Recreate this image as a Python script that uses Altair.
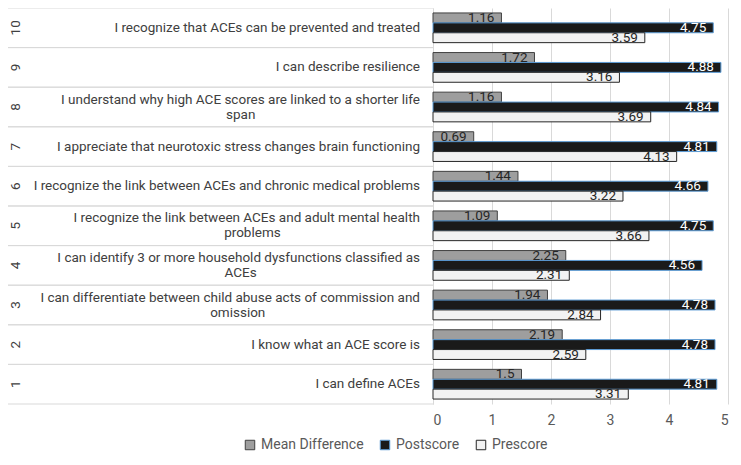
import altair as alt
import pandas as pd

items = [10, 9, 8, 7, 6, 5, 4, 3, 2, 1]
line1 = [
    "I recognize that ACEs can be prevented and treated",
    "I can describe resilience",
    "I understand why high ACE scores are linked to a shorter life",
    "I appreciate that neurotoxic stress changes brain functioning",
    "I recognize the link between ACEs and chronic medical problems",
    "I recognize the link between ACEs and adult mental health",
    "I can identify 3 or more household dysfunctions classified as",
    "I can differentiate between child abuse acts of commission and",
    "I know what an ACE score is",
    "I can define ACEs",
]
line2 = ["", "", "span", "", "", "problems", "ACEs", "omission", "", ""]
mean_diff = [1.16, 1.72, 1.16, 0.69, 1.44, 1.09, 2.25, 1.94, 2.19, 1.5]
postscore = [4.75, 4.88, 4.84, 4.81, 4.66, 4.75, 4.56, 4.78, 4.78, 4.81]
prescore = [3.59, 3.16, 3.69, 4.13, 3.22, 3.66, 2.31, 2.84, 2.59, 3.31]
series = ["Mean Difference", "Postscore", "Prescore"]
fills = ["#9e9e9e", "#1a1a1a", "#f2f2f2"]
strokes = ["#404040", "#5b9bd5", "#262626"]

FONT = "Roboto"
CHAR_W = 5.88  # approx. glyph width used to centre second label lines

labels = pd.DataFrame({"item": items, "line1": line1, "line2": line2})
rows = []
for i, it in enumerate(items):
    for s, vals in zip(series, [mean_diff, postscore, prescore]):
        rows.append({"item": it, "series": s, "value": vals[i]})
bars_df = pd.DataFrame(rows)

y_enc = alt.Y("item:O", sort="descending",
              scale=alt.Scale(paddingInner=0, paddingOuter=0),
              axis=alt.Axis(labels=False, ticks=False, title=None, domain=True,
                            domainColor="#d9d9d9", grid=False))
yoff = alt.YOffset("series:N", sort=series,
                   scale=alt.Scale(domain=series, paddingInner=0, paddingOuter=0.5))

leg = dict(title=None, orient="none", legendX=-190, legendY=430,
           direction="horizontal", symbolType="square", symbolSize=90,
           labelFontSize=14, labelFont=FONT, labelColor="#595959",
           columnPadding=14, symbolStrokeWidth=1)

base = alt.Chart(bars_df)

bars = base.mark_bar(strokeWidth=1, cornerRadius=0).encode(
    x=alt.X("value:Q", scale=alt.Scale(domain=[0, 5], nice=False),
            axis=alt.Axis(values=[0, 1, 2, 3, 4, 5], format="d", title=None, ticks=False,
                          domain=False, grid=True, gridColor="#d9d9d9",
                          labelFontSize=14, labelColor="#595959", labelFont=FONT,
                          labelPadding=9)),
    y=y_enc,
    yOffset=yoff,
    fill=alt.Fill("series:N", sort=series,
                  scale=alt.Scale(domain=series, range=fills),
                  legend=alt.Legend(**leg)),
    stroke=alt.Stroke("series:N", sort=series,
                      scale=alt.Scale(domain=series, range=strokes),
                      legend=alt.Legend(**leg)),
)

vals = base.mark_text(align="right", baseline="middle", dx=-7, fontSize=13.5, font=FONT).encode(
    x=alt.X("value:Q"),
    y=y_enc,
    yOffset=yoff,
    text=alt.Text("value:Q", format=".3~f"),
    color=alt.condition(alt.datum.series == "Postscore", alt.value("white"), alt.value("#262626")),
)

lab = alt.Chart(labels)
txt_kw = dict(baseline="middle", fontSize=13.5, font=FONT, color="#404040")
single = lab.transform_filter(alt.datum.line2 == "").mark_text(align="right", **txt_kw).encode(
    x=alt.value(-13), y=y_enc, text="line1:N")
multi1 = lab.transform_filter(alt.datum.line2 != "").mark_text(align="right", dy=-7.5, **txt_kw).encode(
    x=alt.value(-13), y=y_enc, text="line1:N")
multi2 = lab.transform_filter(alt.datum.line2 != "").transform_calculate(
    px=f"-13 - length(datum.line1) * {CHAR_W} / 2"
).mark_text(align="center", dy=7.5, **txt_kw).encode(
    x=alt.X("px:Q", scale=None, axis=None), y=y_enc, text="line2:N")
nums = lab.mark_text(align="center", baseline="middle", angle=270, fontSize=13.5,
                     font=FONT, color="#404040").encode(
    x=alt.value(-417), y=y_enc, text="item:O")

sep_top = lab.mark_rule(color="#d9d9d9", strokeWidth=1).encode(
    x=alt.value(-425), x2=alt.value(0), y=alt.Y("item:O", sort="descending", bandPosition=0))
sep_bot = lab.mark_rule(color="#d9d9d9", strokeWidth=1).encode(
    x=alt.value(-425), x2=alt.value(0), y=alt.Y("item:O", sort="descending", bandPosition=1))

chart = alt.layer(sep_top, sep_bot, bars, vals, single, multi1, multi2, nums).properties(
    width=295, height=396,
    padding={"left": 425, "top": 0, "right": 5, "bottom": 53},
    autosize=alt.AutoSizeParams(type="none"),
).configure_view(stroke=None)

chart.save("out.html", embed_options={"renderer": "svg", "actions": False})
